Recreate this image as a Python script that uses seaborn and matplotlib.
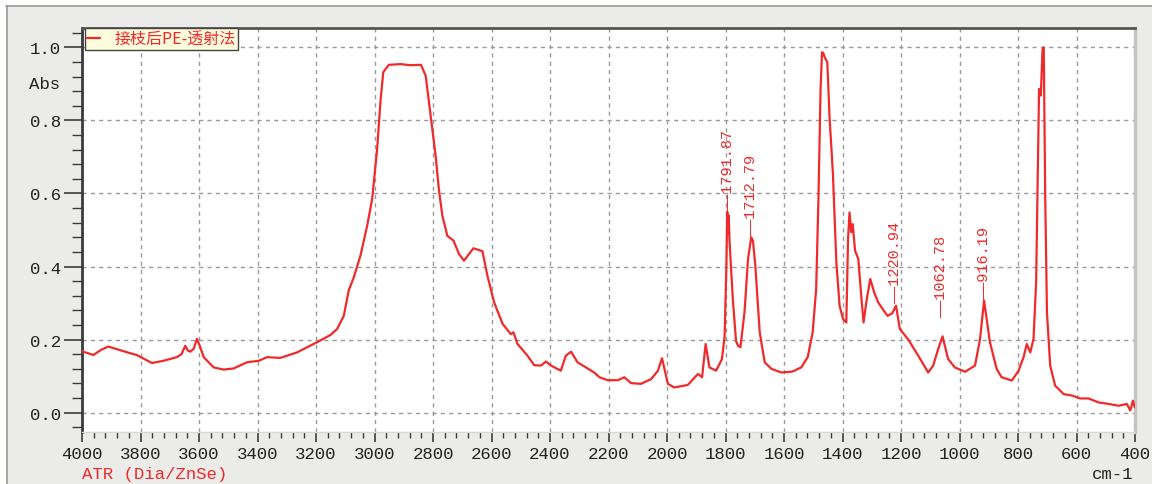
import matplotlib
matplotlib.use("Agg")
import matplotlib.pyplot as plt
from matplotlib.ticker import MultipleLocator, FixedLocator
from matplotlib.patches import Rectangle
from matplotlib.lines import Line2D
import seaborn as sns
import pandas as pd

# ---------------- data ----------------
wavenumber = [4000, 3961, 3935, 3910, 3881, 3836, 3813, 3761, 3722, 3676, 3660, 3647, 3638, 3630, 3618,
              3607, 3595, 3584, 3550, 3516, 3482, 3436, 3396, 3367, 3322, 3265, 3196, 3150, 3128, 3105,
              3088, 3071, 3048, 3025, 3008, 2991, 2979, 2970, 2951, 2911, 2877, 2841, 2825, 2808, 2791,
              2780, 2768, 2751, 2730, 2711, 2694, 2662, 2631, 2614, 2591, 2562, 2534, 2525, 2511, 2477,
              2454, 2431, 2414, 2397, 2363, 2346, 2328, 2306, 2271, 2249, 2231, 2203, 2168, 2146, 2123,
              2089, 2054, 2031, 2017, 2006, 1997, 1975, 1929, 1894, 1880, 1868, 1855, 1832, 1812, 1803,
              1797, 1794, 1791, 1789, 1786, 1775, 1764, 1757, 1749, 1735, 1723, 1712, 1706, 1698, 1683,
              1666, 1643, 1609, 1575, 1564, 1552, 1541, 1519, 1502, 1490, 1482, 1475, 1470, 1466, 1461,
              1452, 1444, 1433, 1421, 1410, 1398, 1387, 1381, 1376, 1370, 1365, 1357, 1346, 1337, 1328,
              1317, 1305, 1292, 1278, 1263, 1246, 1230, 1217, 1204, 1175, 1141, 1107, 1090, 1073, 1058,
              1039, 1016, 981, 947, 930, 916, 896, 873, 856, 821, 798, 781, 770, 758, 747,
              738, 732, 728, 722, 716, 712, 707, 701, 690, 673, 644, 616, 587, 559, 524,
              490, 456, 428, 416, 407, 401]
absorbance = [0.168, 0.158, 0.172, 0.181, 0.174, 0.163, 0.158, 0.136, 0.142, 0.152, 0.160, 0.183, 0.170, 0.167, 0.175,
              0.202, 0.178, 0.152, 0.124, 0.118, 0.121, 0.138, 0.142, 0.152, 0.150, 0.165, 0.193, 0.213, 0.229, 0.265,
              0.335, 0.370, 0.430, 0.512, 0.585, 0.721, 0.858, 0.932, 0.952, 0.954, 0.951, 0.952, 0.922, 0.813, 0.703,
              0.612, 0.539, 0.484, 0.471, 0.434, 0.416, 0.450, 0.442, 0.375, 0.302, 0.243, 0.215, 0.220, 0.188, 0.156,
              0.130, 0.129, 0.140, 0.129, 0.115, 0.156, 0.167, 0.138, 0.121, 0.110, 0.097, 0.089, 0.089, 0.097, 0.081,
              0.079, 0.092, 0.115, 0.149, 0.110, 0.079, 0.069, 0.076, 0.106, 0.097, 0.188, 0.124, 0.115, 0.147, 0.210,
              0.402, 0.550, 0.490, 0.540, 0.466, 0.311, 0.196, 0.183, 0.179, 0.275, 0.421, 0.480, 0.470, 0.402, 0.220,
              0.138, 0.120, 0.110, 0.112, 0.115, 0.120, 0.124, 0.152, 0.220, 0.339, 0.594, 0.886, 0.986, 0.985, 0.973,
              0.959, 0.804, 0.658, 0.412, 0.293, 0.256, 0.247, 0.475, 0.548, 0.494, 0.516, 0.443, 0.421, 0.330, 0.247,
              0.311, 0.366, 0.330, 0.302, 0.284, 0.265, 0.272, 0.293, 0.229, 0.200, 0.156, 0.110, 0.129, 0.174, 0.209,
              0.147, 0.124, 0.112, 0.129, 0.200, 0.307, 0.193, 0.120, 0.097, 0.088, 0.115, 0.152, 0.188, 0.165, 0.202,
              0.357, 0.685, 0.886, 0.868, 0.995, 1.000, 0.594, 0.275, 0.129, 0.074, 0.051, 0.047, 0.039, 0.039, 0.028,
              0.024, 0.019, 0.024, 0.006, 0.033, 0.015]

peak_positions = [1791.87, 1712.79, 1220.94, 1062.78, 916.19]
peak_labels = ["1791.87", "1712.79", "1220.94", "1062.78", "916.19"]
peak_abs = [0.553, 0.484, 0.300, 0.262, 0.310]

series_name = "接枝后PE-透射法"
y_ticks = [0.0, 0.2, 0.4, 0.6, 0.8, 1.0]
y_ticklabels = ["0.0", "0.2", "0.4", "0.6", "0.8", "1.0"]
x_ticks = list(range(4000, 399, -200))

df = pd.DataFrame({"wn": wavenumber, "abs": absorbance})

# ---------------- style ----------------
sns.set_style("white")
mono = ["Liberation Mono", "DejaVu Sans Mono"]
cjk = ["Noto Sans CJK SC", "DejaVu Sans"]
plt.rcParams["font.family"] = mono

RED = "#f02a2a"
DARK = "#3c3c3c"

fig = plt.figure(figsize=(11.52, 4.85), dpi=100)
fig.patch.set_facecolor("#ebebe9")
fig.patches.append(Rectangle((0, 1 - 6 / 485), 1, 6 / 485, transform=fig.transFigure,
                             facecolor="white", edgecolor="none", zorder=0))
fig.patches.append(Rectangle((0, 0), 6 / 1152, 1, transform=fig.transFigure,
                             facecolor="white", edgecolor="none", zorder=0))
fig.lines.append(Line2D([6 / 1152, 1], [1 - 6.5 / 485, 1 - 6.5 / 485], transform=fig.transFigure,
                        color="#9a9a9a", lw=1.2))
fig.lines.append(Line2D([6.5 / 1152, 6.5 / 1152], [0, 1 - 6.5 / 485], transform=fig.transFigure,
                        color="#9a9a9a", lw=1.2))

ax = fig.add_axes([82 / 1152, 1 - 432.7 / 485, (1135 - 82) / 1152, (432.7 - 29.3) / 485])
ax.set_facecolor("white")

sns.lineplot(data=df, x="wn", y="abs", ax=ax, color=RED, lw=1.6, estimator=None,
             sort=False, label=series_name, zorder=3)

ax.set_xlim(4000, 400)
ax.set_ylim(-0.052, 1.052)

ax.xaxis.set_major_locator(FixedLocator(x_ticks))
ax.xaxis.set_minor_locator(MultipleLocator(40))
ax.yaxis.set_major_locator(FixedLocator(y_ticks))
ax.yaxis.set_minor_locator(MultipleLocator(0.04))
ax.set_yticklabels(y_ticklabels)

ax.tick_params(axis="x", which="major", direction="out", length=7.5, width=1.2, color=DARK,
               labelsize=12.5, labelcolor="#222222", pad=3, bottom=True)
ax.tick_params(axis="x", which="minor", direction="out", length=4.5, width=1.0, color=DARK, bottom=True)
ax.tick_params(axis="y", which="major", direction="out", length=13, width=1.2, color=DARK,
               labelsize=12.5, labelcolor="#222222", pad=2, left=True)
ax.tick_params(axis="y", which="minor", direction="out", length=7, width=1.0, color=DARK, left=True)

ax.grid(True, which="major", color="#9a9a9a", lw=1.0, linestyle=(0, (3, 3)))

for side, col, w in [("left", DARK, 2.0), ("top", "#555555", 2.0),
                     ("right", "#c4c4c4", 2.5), ("bottom", "#d8d8d8", 1.0)]:
    ax.spines[side].set_visible(True)
    ax.spines[side].set_color(col)
    ax.spines[side].set_linewidth(w)

ax.set_xlabel("")
ax.set_ylabel("")

ax.text(-0.0208, 0.9, "Abs", transform=ax.get_yaxis_transform(), ha="right", va="center",
        fontsize=12.5, color="#222222")

# peak annotations
for xp, lab, yp in zip(peak_positions, peak_labels, peak_abs):
    ax.text(xp, yp, "——" + lab, rotation=90, ha="center", va="bottom", color=RED,
            fontsize=11, zorder=4)

leg = ax.legend(loc="upper left", bbox_to_anchor=(0.0025, 1.0), borderaxespad=0, frameon=True,
                fancybox=False, framealpha=1, facecolor="#fdfcdc", edgecolor="#444444",
                handlelength=0.8, handletextpad=0.9, borderpad=0.15,
                prop={"family": cjk, "size": 11.5})
leg.get_frame().set_linewidth(1.0)
for t in leg.get_texts():
    t.set_color(RED)

fig.text(82 / 1152, 1 - 475 / 485, "ATR (Dia/ZnSe)", color=RED, fontsize=12.5, ha="left", va="center")
fig.text(1133 / 1152, 1 - 475 / 485, "cm-1", color="#222222", fontsize=12.5, ha="right", va="center")

fig.savefig("out.png", dpi=100, facecolor=fig.get_facecolor())
